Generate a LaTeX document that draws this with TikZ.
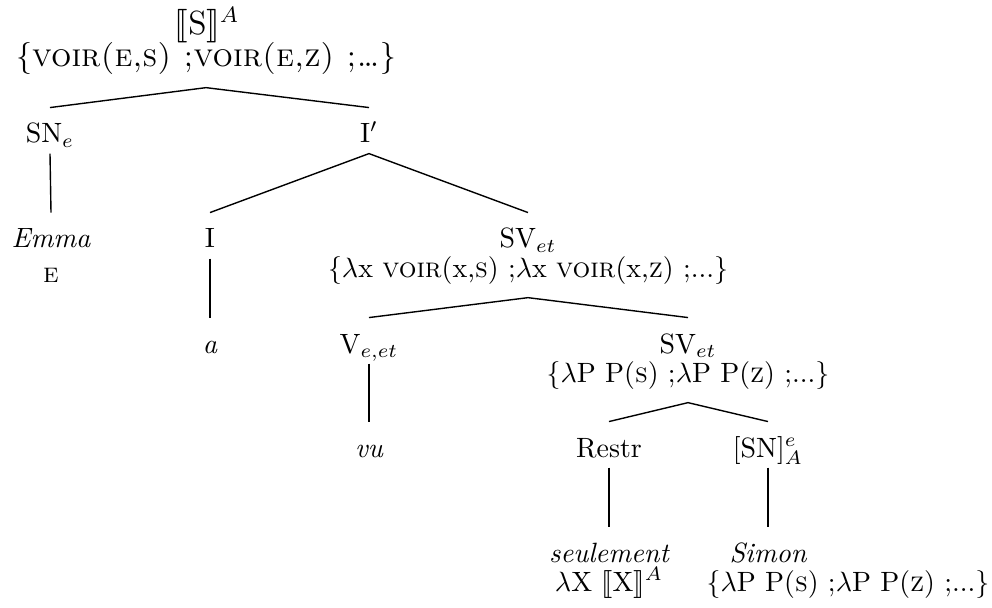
\documentclass[tikz,border=0pt]{standalone}
\usepackage{stmaryrd}
\usetikzlibrary{positioning}

\begin{document}
\begin{tikzpicture}[
    x=0.3584pt, y=-0.3584pt,
    cat/.style={anchor=base, inner sep=0pt, text height=12.5pt, text depth=3.6pt},
    den/.style={anchor=base, inner sep=0pt, text height=6pt, text depth=7.2pt},
    leaf/.style={anchor=base, inner sep=0pt, text height=12.5pt, text depth=3.6pt, font=\itshape},
    gloss/.style={anchor=base, inner sep=0pt},
    top/.style={font=\fontsize{11.5pt}{14pt}\selectfont},
    branch/.style={line width=0.5pt}
]
    \useasboundingbox (0,0) rectangle (992,608);
    \node[cat, top] (s) at (207,35) {$\llbracket\mathrm{S}\rrbracket^{A}$};
    \node[den, top] (sden) at (206,67) {\{\textsc{voir(e,s) ;voir(e,z) ;\ldots}\}};
    \node[cat] (sn) at (50,143) {SN$_e$};
    \node[cat] (ibar) at (369,143) {I$'$};
    \node[leaf] (emma) at (51,248) {Emma};
    \node[gloss] (e) at (51,282) {\textsc{e}};
    \node[cat] (infl) at (210,248) {I};
    \node[cat] (sv) at (528,248) {SV$_{et}$};
    \node[den] (svden) at (528,277) {\{$\lambda$x \textsc{voir}(x,\textsc{s}) ;$\lambda$x \textsc{voir}(x,\textsc{z}) ;...\}};
    \node[leaf] (a) at (210,353) {a};
    \node[cat] (verb) at (369,353) {V$_{e,et}$};
    \node[cat] (svq) at (688,353) {SV$_{et}$};
    \node[den] (svqden) at (688,382) {\{$\lambda$P P(\textsc{s}) ;$\lambda$P P(\textsc{z}) ;...\}};
    \node[leaf] (vu) at (369,457) {vu};
    \node[cat] (restr) at (609,457) {Restr};
    \node[cat] (snfoc) at (768,457) {[SN]$^{e}_{A}$};
    \node[leaf] (seul) at (609,562) {seulement};
    \node[gloss] (seulden) at (609,591) {$\lambda$X $\llbracket\mathrm{X}\rrbracket^{A}$};
    \node[leaf] (simon) at (768,562) {Simon};
    \node[gloss] (simonden) at (848,591) {\{$\lambda$P P(\textsc{s}) ;$\lambda$P P(\textsc{z}) ;...\}};
    \draw[branch] (sn.north) -- (sden.south) -- (ibar.north);
    \draw[branch] (sn.south) -- (emma.north);
    \draw[branch] (infl.north) -- (ibar.south) -- (sv.north);
    \draw[branch] (infl.south) -- (a.north);
    \draw[branch] (verb.north) -- (svden.south) -- (svq.north);
    \draw[branch] (verb.south) -- (vu.north);
    \draw[branch] (restr.north) -- (svqden.south) -- (snfoc.north);
    \draw[branch] (restr.south) -- (seul.north);
    \draw[branch] (snfoc.south) -- (simon.north);
\end{tikzpicture}
\end{document}
